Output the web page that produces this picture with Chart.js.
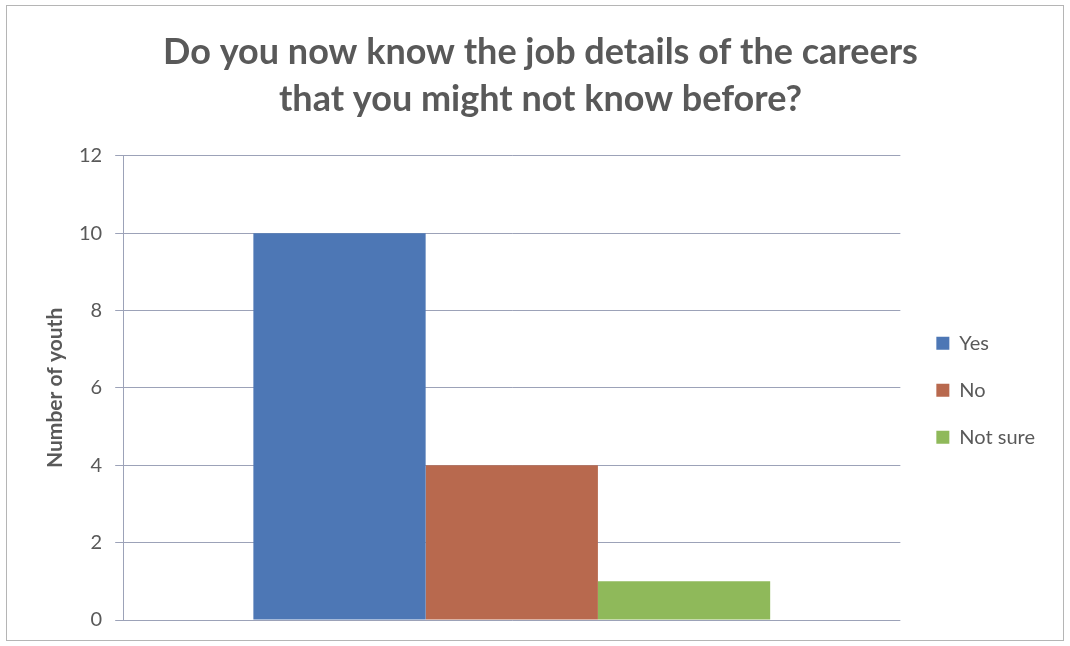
<!DOCTYPE html>
<html>
<head>
<meta charset="utf-8">
<script src="https://cdn.jsdelivr.net/npm/chart.js@4/dist/chart.umd.min.js"></script>
<style>
  html, body { margin: 0; padding: 0; background: #fff; }
  #frame {
    position: absolute; left: 6px; top: 5px;
    width: 1056px; height: 634px;
    border: 1px solid #b5b5b5;
    background: #fff;
  }
</style>
</head>
<body>
<div id="frame"><canvas id="chart" width="1056" height="634"></canvas></div>
<script>
const categories = [""];
const seriesNames = ["Yes", "No", "Not sure"];
const seriesValues = [10, 4, 1];
const seriesColors = ["#4d77b5", "#b8694e", "#8fb95a"];
const yTicks = [0, 2, 4, 6, 8, 10, 12];

const textColor = "#595959";
const gridColor = "#9ca2b8";

// leave a wider gap between the plot and the legend keys
const legendGap = {
  id: "legendGap",
  afterLayout(chart) {
    chart.legend.left += 9;
    chart.legend.right += 9;
  },
};

const ctx = document.getElementById("chart");
new Chart(ctx, {
  type: "bar",
  data: {
    labels: categories,
    datasets: seriesNames.map((name, i) => ({
      label: name,
      data: [seriesValues[i]],
      backgroundColor: seriesColors[i],
      borderWidth: 0,
      categoryPercentage: 0.665,
      barPercentage: 1.0,
    })),
  },
  plugins: [legendGap],
  options: {
    responsive: false,
    animation: false,
    layout: { padding: { left: 38, right: 27, top: 0, bottom: 12 } },
    plugins: {
      title: {
        display: true,
        text: ["Do you now know the job details of the careers", "that you might not know before?"],
        color: textColor,
        font: { family: "Lato", size: 36, weight: "bold", lineHeight: 1.33 },
        padding: { top: 22, bottom: 32 },
      },
      legend: {
        position: "right",
        // empty legend title only pushes the items down to the middle of the plot
        title: { display: true, text: "", padding: { top: 132, bottom: 0 } },
        labels: {
          color: textColor,
          font: { family: "Lato", size: 20 },
          boxWidth: 13,
          boxHeight: 13,
          padding: 27,
        },
      },
      tooltip: { enabled: false },
    },
    scales: {
      x: {
        display: false,
      },
      y: {
        min: 0,
        max: 12,
        afterBuildTicks: (axis) => { axis.ticks = yTicks.map((v) => ({ value: v })); },
        grid: { color: gridColor, tickLength: 8 },
        border: { display: true, color: gridColor },
        ticks: { color: textColor, font: { family: "Lato", size: 20, lineHeight: 0.7 }, padding: 13 },
        title: {
          display: true,
          text: "Number of youth",
          color: textColor,
          font: { family: "Lato", size: 21, weight: "bold", lineHeight: 1 },
          padding: 0,
        },
      },
    },
  },
});
</script>
</body>
</html>
